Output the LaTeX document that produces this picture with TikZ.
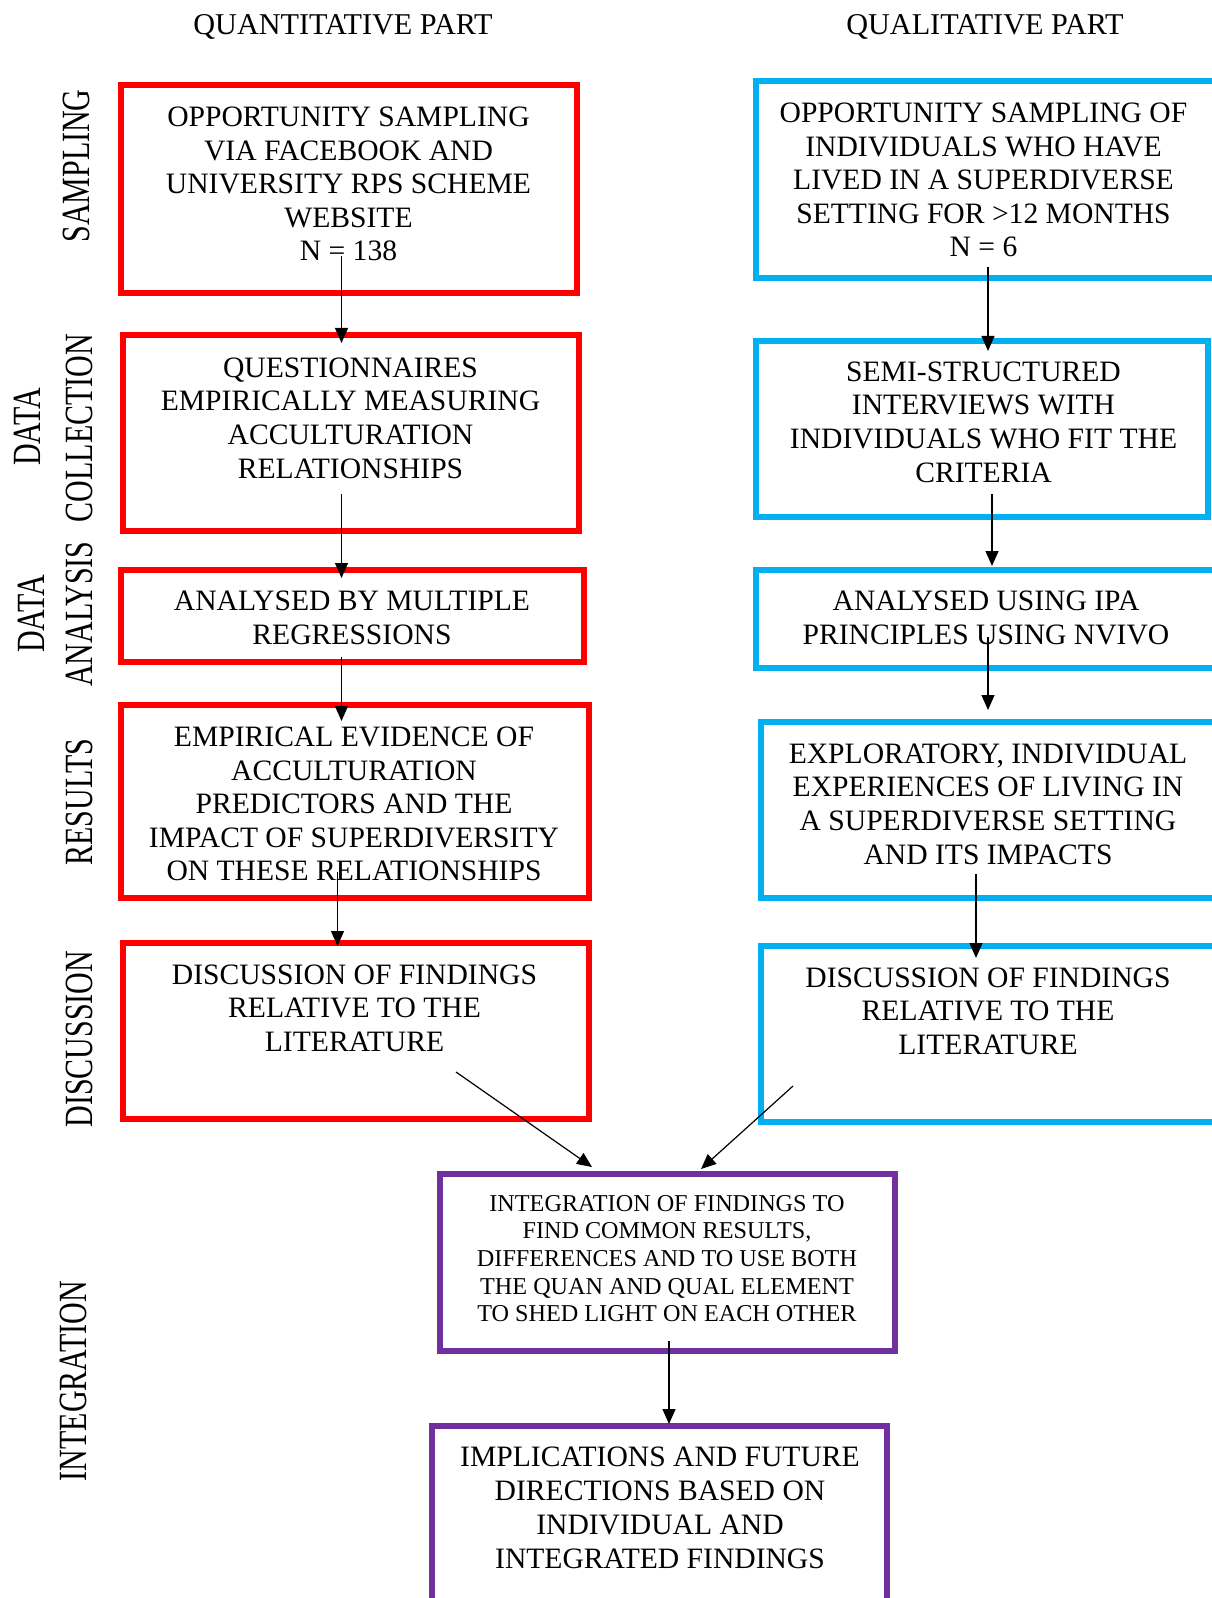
\documentclass[tikz,border=0pt]{standalone}
\usepackage{fontspec}
\usepackage{graphicx}
\setmainfont{Liberation Serif}
\usetikzlibrary{arrows.meta}
\definecolor{qred}{HTML}{FF0000}
\definecolor{qblue}{HTML}{00B0F0}
\definecolor{qpurple}{HTML}{7030A0}
\begin{document}
\begin{tikzpicture}[x=0.5pt,y=-0.5pt,
  box/.style={draw,line width=3.2pt,inner sep=0pt},
  redbox/.style={box,draw=qred},
  bluebox/.style={box,draw=qblue},
  purplebox/.style={box,draw=qpurple},
  txt/.style={align=center,inner sep=0pt,font=\fontsize{14.8}{16.8}\selectfont},
  bigtxt/.style={align=center,inner sep=0pt,font=\fontsize{14.8}{17}\selectfont},
  smalltxt/.style={align=center,inner sep=0pt,font=\fontsize{12.1}{13.8}\selectfont},
  head/.style={inner sep=0pt,anchor=base,font=\fontsize{15.1}{17}\selectfont},
  side/.style={rotate=90,inner sep=0pt,font=\fontsize{20}{24}\selectfont},
  conn/.style={line width=0.6pt,-{Triangle[width=6.5pt,length=7.5pt]}}
]
\useasboundingbox (0,0) rectangle (1211,1598);

% headers
\node[head] (hquan) at (343,35) {QUANTITATIVE PART};
\node[head] (hqual) at (985,35) {QUALITATIVE PART};

% side labels
\node[side] (sSamp) at (76,166) {\scalebox{0.75}[1]{SAMPLING}};
\node[side] (sData1) at (27,427) {\scalebox{0.75}[1]{DATA}};
\node[side] (sColl) at (79.5,428) {\scalebox{0.75}[1]{COLLECTION}};
\node[side] (sData2) at (31,614) {\scalebox{0.75}[1]{DATA}};
\node[side] (sAnal) at (79.5,614) {\scalebox{0.75}[1]{ANALYSIS}};
\node[side] (sRes) at (79.5,802) {\scalebox{0.75}[1]{RESULTS}};
\node[side] (sDisc) at (79.5,1039) {\scalebox{0.75}[1]{DISCUSSION}};
\node[side] (sInt) at (73,1381) {\scalebox{0.75}[1]{INTEGRATION}};

% left boxes
\node[redbox,minimum width=228pt,minimum height=104pt] (L1) at (349,189) {};
\node[redbox,minimum width=228pt,minimum height=98pt] (L2) at (351,433) {};
\node[redbox,minimum width=231.5pt,minimum height=46pt] (L3) at (352.5,616) {};
\node[redbox,minimum width=234pt,minimum height=96.5pt] (L4) at (355,801.5) {};
\node[redbox,minimum width=233pt,minimum height=88pt] (L5) at (356,1031) {};

\node[txt] (L1t) at (348.5,184) {OPPORTUNITY SAMPLING\\VIA FACEBOOK AND\\UNIVERSITY RPS SCHEME\\WEBSITE\\N = 138};
\node[txt] (L2t) at (350.5,418) {QUESTIONNAIRES\\EMPIRICALLY MEASURING\\ACCULTURATION\\RELATIONSHIPS};
\node[txt] (L3t) at (352,618) {ANALYSED BY MULTIPLE\\REGRESSIONS};
\node[txt] (L4t) at (354,804) {EMPIRICAL EVIDENCE OF\\ACCULTURATION\\PREDICTORS AND THE\\IMPACT OF SUPERDIVERSITY\\ON THESE RELATIONSHIPS};
\node[txt] (L5t) at (354.5,1008) {DISCUSSION OF FINDINGS\\RELATIVE TO THE\\LITERATURE};

% right boxes
\node[bluebox,minimum width=230pt,minimum height=98.5pt] (R1) at (986,179.5) {};
\node[bluebox,minimum width=226pt,minimum height=88pt] (R2) at (982,429) {};
\node[bluebox,minimum width=230pt,minimum height=49pt] (R3) at (986,619) {};
\node[bluebox,minimum width=227.5pt,minimum height=88pt] (R4) at (988.5,810) {};
\node[bluebox,minimum width=227.5pt,minimum height=88pt] (R5) at (988.5,1034) {};

\node[txt] (R1t) at (983.5,180) {OPPORTUNITY SAMPLING OF\\INDIVIDUALS WHO HAVE\\LIVED IN A SUPERDIVERSE\\SETTING FOR >12 MONTHS\\N = 6};
\node[txt] (R2t) at (983.5,422) {SEMI-STRUCTURED\\INTERVIEWS WITH\\INDIVIDUALS WHO FIT THE\\CRITERIA};
\node[txt] (R3t) at (986,618) {ANALYSED USING IPA\\PRINCIPLES USING NVIVO};
\node[txt] (R4t) at (988,804) {EXPLORATORY, INDIVIDUAL\\EXPERIENCES OF LIVING IN\\A SUPERDIVERSE SETTING\\AND ITS IMPACTS};
\node[txt] (R5t) at (988,1011) {DISCUSSION OF FINDINGS\\RELATIVE TO THE\\LITERATURE};

% purple boxes
\node[purplebox,minimum width=227.5pt,minimum height=88.5pt] (P1) at (667.5,1262.5) {};
\node[purplebox,minimum width=227.5pt,minimum height=93pt] (P2) at (659.5,1519) {};
\node[smalltxt] (P1t) at (667,1258.5) {INTEGRATION OF FINDINGS TO\\FIND COMMON RESULTS,\\DIFFERENCES AND TO USE BOTH\\THE QUAN AND QUAL ELEMENT\\TO SHED LIGHT ON EACH OTHER};
\node[bigtxt] (P2t) at (660,1508) {IMPLICATIONS AND FUTURE\\DIRECTIONS BASED ON\\INDIVIDUAL AND\\INTEGRATED FINDINGS};

% connector end points
\coordinate (a1s) at (341.5,256);  \coordinate (a1e) at (341.5,343);
\coordinate (a2s) at (341.5,494);  \coordinate (a2e) at (341.5,578);
\coordinate (a3s) at (341.5,657);  \coordinate (a3e) at (341.5,721);
\coordinate (a4s) at (337.5,872);  \coordinate (a4e) at (337.5,946);
\coordinate (a5s) at (456,1072);   \coordinate (a5e) at (592,1167);
\coordinate (b1s) at (988,267);    \coordinate (b1e) at (988,351);
\coordinate (b2s) at (992,494);    \coordinate (b2e) at (992,566);
\coordinate (b3s) at (988,637);    \coordinate (b3e) at (988,710);
\coordinate (b4s) at (976,874);    \coordinate (b4e) at (976,958);
\coordinate (b5s) at (793,1086);   \coordinate (b5e) at (701,1169);
\coordinate (c1s) at (669,1341);   \coordinate (c1e) at (669,1424);

\draw[conn] (a1s) -- (a1e);
\draw[conn] (a2s) -- (a2e);
\draw[conn] (a3s) -- (a3e);
\draw[conn] (a4s) -- (a4e);
\draw[conn] (a5s) -- (a5e);
\draw[conn] (b1s) -- (b1e);
\draw[conn] (b2s) -- (b2e);
\draw[conn] (b3s) -- (b3e);
\draw[conn] (b4s) -- (b4e);
\draw[conn] (b5s) -- (b5e);
\draw[conn] (c1s) -- (c1e);
\end{tikzpicture}
\end{document}
